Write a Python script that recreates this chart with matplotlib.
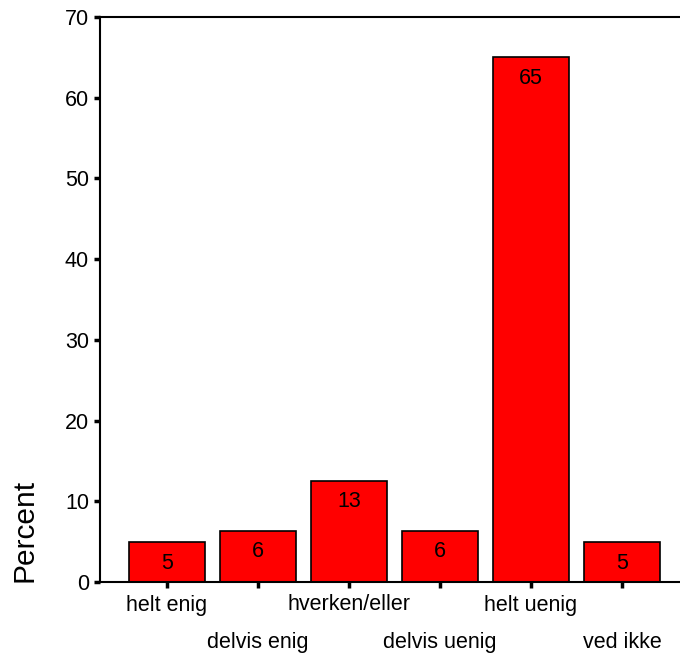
# Diagrama de barras de porcentajes por categoria de respuesta
import numpy as np
import matplotlib.pyplot as plt

plt.rcParams['font.family'] = ['Liberation Sans', 'DejaVu Sans']

# Datos
categorias = ['helt enig', 'delvis enig', 'hverken/eller',
              'delvis uenig', 'helt uenig', 'ved ikke']
porcentajes = [4.9, 6.3, 12.5, 6.3, 65.0, 4.9]
etiquetas = ['5', '6', '13', '6', '65', '5']
yticks = [0, 10, 20, 30, 40, 50, 60, 70]

fig = plt.figure(figsize=(6.8, 6.57), dpi=100)
# Ejes posicionados en pixeles: izquierda 100, derecha 680, abajo 582, arriba 17
ax = fig.add_axes([100 / 680, (657 - 582) / 657, 580 / 680, (582 - 17) / 657])

x = np.arange(len(categorias))
bars = ax.bar(x, porcentajes, width=0.835, color='#ff0000',
              edgecolor='black', linewidth=1.2)

# Etiqueta numerica dentro de cada barra, cerca del borde superior
for bar, txt in zip(bars, etiquetas):
    ax.annotate(txt, (bar.get_x() + bar.get_width() / 2, bar.get_height()),
                xytext=(0, -15), textcoords='offset points',
                ha='center', va='center', fontsize=15.5)

ax.set_xlim(-0.736, 5.637)
ax.set_ylim(0, 70)
ax.set_yticks(yticks)
# Etiquetas alternadas en dos filas: pares como ticks mayores, impares como menores
ax.set_xticks(x[::2], categorias[::2])
ax.set_xticks(x[1::2], categorias[1::2], minor=True)

ax.tick_params(axis='both', which='both', direction='out', length=4, width=2.5,
               labelsize=15.5)
ax.tick_params(axis='x', which='major', pad=5)
ax.tick_params(axis='x', which='minor', pad=32)
ax.tick_params(axis='y', pad=4)

for lado in ('left', 'top', 'bottom'):
    ax.spines[lado].set_linewidth(1.5)
ax.spines['right'].set_visible(False)

ax.set_ylabel('Percent', fontsize=21.5)
ax.yaxis.set_label_coords(-0.13, 0.0, transform=ax.transAxes)
ax.yaxis.label.set_verticalalignment('center')
ax.yaxis.label.set_horizontalalignment('left')

fig.savefig('out.png', dpi=100)
